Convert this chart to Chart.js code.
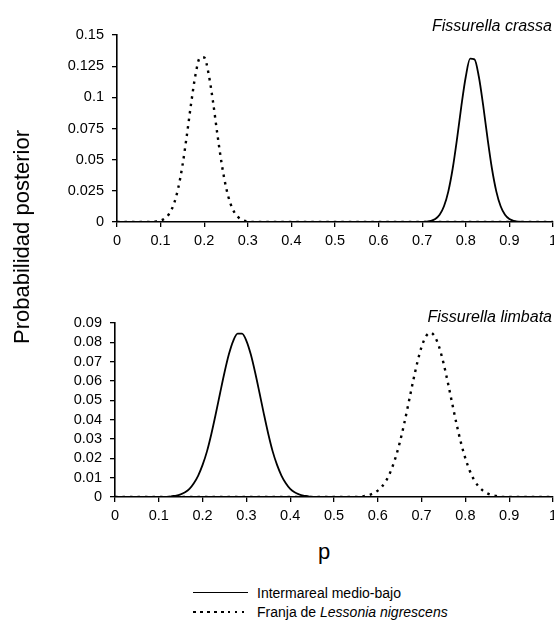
<!DOCTYPE html>
<html>
<head>
<meta charset="utf-8">
<script src="https://cdn.jsdelivr.net/npm/chart.js@4/dist/chart.umd.min.js"></script>
<style>
  html, body { margin:0; padding:0; background:#fff; }
  body { width:554px; height:625px; overflow:hidden; position:relative; font-family:"Liberation Sans", Arial, sans-serif; color:#000; }
  .wrap { position:absolute; left:0; }
  .txt { position:absolute; white-space:nowrap; line-height:1; }
</style>
</head>
<body>
<div class="wrap" style="top:0px;"><canvas id="c1" width="562" height="250"></canvas></div>
<div class="wrap" style="top:250px;"><canvas id="c2" width="562" height="280"></canvas></div>

<div class="txt" style="right:2px; top:18px; font-size:16px; font-style:italic;">Fissurella crassa</div>
<div class="txt" style="right:2px; top:309px; font-size:16px; font-style:italic;">Fissurella limbata</div>
<div class="txt" style="left:22px; top:237px; font-size:22px; transform:translate(-50%,-50%) rotate(-90deg);">Probabilidad posterior</div>
<div class="txt" style="left:318px; top:541px; font-size:22px;">p</div>

<div style="position:absolute; left:193px; top:592px; width:55px; height:0; border-top:1.5px solid #000;"></div>
<div class="txt" style="left:257px; top:586px; font-size:14px;">Intermareal medio-bajo</div>
<div style="position:absolute; left:193px; top:611px; width:55px; height:2px; background:repeating-linear-gradient(to right,#000 0 2.5px,transparent 2.5px 7px);"></div>
<div class="txt" style="left:257px; top:605px; font-size:14px;">Franja de <i>Lessonia nigrescens</i></div>

<script>
// ---- Data ----
const xTicks = [0, 0.1, 0.2, 0.3, 0.4, 0.5, 0.6, 0.7, 0.8, 0.9, 1];
const xTickLabels = ['0', '0.1', '0.2', '0.3', '0.4', '0.5', '0.6', '0.7', '0.8', '0.9', '1'];

const topYTicks = [0, 0.025, 0.05, 0.075, 0.1, 0.125, 0.15];
const topYTickLabels = ['0', '0.025', '0.05', '0.075', '0.1', '0.125', '0.15'];
const bottomYTicks = [0, 0.01, 0.02, 0.03, 0.04, 0.05, 0.06, 0.07, 0.08, 0.09];
const bottomYTickLabels = ['0', '0.01', '0.02', '0.03', '0.04', '0.05', '0.06', '0.07', '0.08', '0.09'];

const seriesNames = ['Intermareal medio-bajo', 'Franja de Lessonia nigrescens'];

// Fissurella crassa – Intermareal medio-bajo (solid)
const crassaIntP = [0, 0.69, 0.70, 0.71, 0.72, 0.73, 0.74, 0.75, 0.76, 0.77, 0.78, 0.79, 0.80, 0.81, 0.82, 0.83, 0.84, 0.85, 0.86, 0.87, 0.88, 0.89, 0.90, 0.91, 0.92, 1];
const crassaIntY = [0, 0, 0.0001, 0.0003, 0.0009, 0.0024, 0.0058, 0.0126, 0.0246, 0.0429, 0.0668, 0.0933, 0.1165, 0.1310, 0.1305, 0.1165, 0.0933, 0.0668, 0.0429, 0.0246, 0.0126, 0.0058, 0.0024, 0.0009, 0.0003, 0];

// Fissurella crassa – Franja de Lessonia (dotted)
const crassaLesP = [0, 0.08, 0.09, 0.10, 0.11, 0.12, 0.13, 0.14, 0.15, 0.16, 0.17, 0.18, 0.19, 0.20, 0.21, 0.22, 0.23, 0.24, 0.25, 0.26, 0.27, 0.28, 0.29, 0.30, 0.31, 1];
const crassaLesY = [0, 0, 0.0005, 0.0012, 0.0030, 0.0068, 0.0140, 0.0265, 0.0450, 0.0690, 0.0950, 0.1180, 0.1315, 0.1320, 0.1190, 0.0970, 0.0710, 0.0470, 0.0280, 0.0150, 0.0072, 0.0032, 0.0013, 0.0005, 0, 0];

// Fissurella limbata – Intermareal medio-bajo (solid)
const limbataIntP = [0, 0.12, 0.13, 0.14, 0.15, 0.16, 0.17, 0.18, 0.19, 0.20, 0.21, 0.22, 0.23, 0.24, 0.25, 0.26, 0.27, 0.28, 0.29, 0.30, 0.31, 0.32, 0.33, 0.34, 0.35, 0.36, 0.37, 0.38, 0.39, 0.40, 0.41, 0.42, 0.43, 0.44, 0.45, 1];
const limbataIntY = [0, 0, 0.0004, 0.0007, 0.0014, 0.0025, 0.0042, 0.0071, 0.0111, 0.0166, 0.0236, 0.0326, 0.0429, 0.0538, 0.0644, 0.0738, 0.0808, 0.0845, 0.0845, 0.0808, 0.0738, 0.0644, 0.0538, 0.0429, 0.0326, 0.0236, 0.0166, 0.0111, 0.0071, 0.0042, 0.0025, 0.0014, 0.0007, 0.0004, 0, 0];

// Fissurella limbata – Franja de Lessonia (dotted)
const limbataLesP = [0, 0.56, 0.57, 0.58, 0.59, 0.60, 0.61, 0.62, 0.63, 0.64, 0.65, 0.66, 0.67, 0.68, 0.69, 0.70, 0.71, 0.72, 0.73, 0.74, 0.75, 0.76, 0.77, 0.78, 0.79, 0.80, 0.81, 0.82, 0.83, 0.84, 0.85, 0.86, 0.87, 0.88, 1];
const limbataLesY = [0, 0, 0.0005, 0.0010, 0.0019, 0.0033, 0.0055, 0.0088, 0.0136, 0.0200, 0.0280, 0.0376, 0.0483, 0.0592, 0.0693, 0.0776, 0.0831, 0.0850, 0.0831, 0.0776, 0.0693, 0.0592, 0.0483, 0.0376, 0.0280, 0.0200, 0.0136, 0.0088, 0.0055, 0.0033, 0.0019, 0.0010, 0.0005, 0, 0];

// ---- Chart construction ----
Chart.defaults.font.family = '"Liberation Sans", Arial, sans-serif';
Chart.defaults.font.size = 14.5;
Chart.defaults.color = '#000';

const pts = (xs, ys) => xs.map((x, i) => ({ x: x, y: ys[i] }));

function makeChart(id, solidP, solidY, dotP, dotY, yTicks, yLabels, yMax, cfg) {
  return new Chart(document.getElementById(id), {
    type: 'line',
    data: {
      datasets: [
        { label: seriesNames[0], data: pts(solidP, solidY), borderColor: '#000', borderWidth: 1.8,
          pointRadius: 0, cubicInterpolationMode: 'monotone', fill: false },
        { label: seriesNames[1], data: pts(dotP, dotY), borderColor: '#000', borderWidth: 2.4,
          borderDash: [2.5, 5], borderCapStyle: 'butt', pointRadius: 0, cubicInterpolationMode: 'monotone', fill: false }
      ]
    },
    options: {
      responsive: false, animation: false, devicePixelRatio: 1,
      layout: { padding: { top: cfg.top, right: 0, left: 0, bottom: 0 } },
      plugins: { legend: { display: false }, tooltip: { enabled: false } },
      scales: {
        x: {
          type: 'linear', min: 0, max: 1,
          afterBuildTicks: s => { s.ticks = xTicks.map(v => ({ value: v })); },
          afterFit: s => { s.height = cfg.xh; },
          ticks: { callback: (v, i) => xTickLabels[i], padding: 5, maxRotation: 0, autoSkip: false },
          grid: { drawOnChartArea: false, drawTicks: true, tickLength: 5, color: '#000', lineWidth: 1.3 },
          border: { display: true, color: '#000', width: 1.6 }
        },
        y: {
          type: 'linear', min: 0, max: yMax,
          afterBuildTicks: s => { s.ticks = yTicks.map(v => ({ value: v })); },
          afterFit: s => { s.width = cfg.yw; },
          ticks: { callback: (v, i) => yLabels[i], padding: 8, autoSkip: false },
          grid: { drawOnChartArea: false, drawTicks: true, tickLength: 5, color: '#000', lineWidth: 1.3 },
          border: { display: true, color: '#000', width: 1.6 }
        }
      }
    }
  });
}

makeChart('c1', crassaIntP, crassaIntY, crassaLesP, crassaLesY, topYTicks, topYTickLabels, 0.15, { top: 35, xh: 28, yw: 117 });
makeChart('c2', limbataIntP, limbataIntY, limbataLesP, limbataLesY, bottomYTicks, bottomYTickLabels, 0.09, { top: 73, xh: 33, yw: 115 });
</script>
</body>
</html>
